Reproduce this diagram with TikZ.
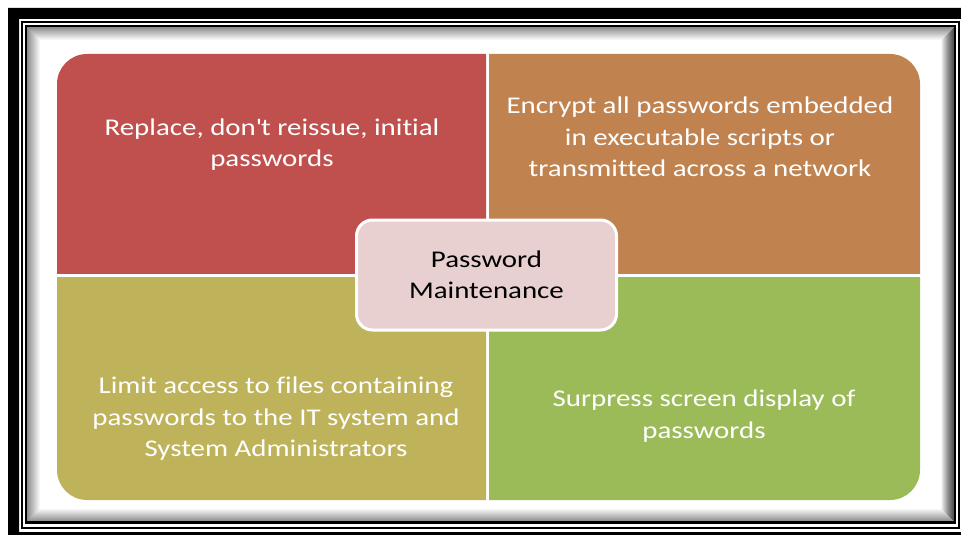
\documentclass[tikz,border=0pt]{standalone}
\usepackage{fontspec}
\setmainfont{Carlito}[FakeStretch=1.205, Ligatures={NoCommon}]
\definecolor{qred}{HTML}{C0504D}
\definecolor{qorange}{HTML}{C0824F}
\definecolor{qolive}{HTML}{BEB35A}
\definecolor{qgreen}{HTML}{9BBB59}
\definecolor{hubfill}{HTML}{E8D0D1}
\begin{document}
\begin{tikzpicture}[x=1pt,y=-1pt,
  quadtext/.style={text=white, align=center, inner sep=0pt,
    font=\fontsize{24}{31.5}\selectfont},
  hubbox/.style={draw=white, line width=3pt, fill=hubfill, rounded corners=16pt,
    minimum width=260pt, minimum height=110pt, align=center, text=black,
    font=\fontsize{24}{31}\selectfont},
  frameline/.style={black, line width=2.2pt}]
\useasboundingbox (0,0) rectangle (961,535);

% picture frame: thick outer band, inner shadow, two thin rules
\fill[black, even odd rule] (8,8) rectangle (990,560) (19,19) rectangle (962,532);
\foreach \i in {0,...,12} {
  \pgfmathsetmacro\op{0.45*(1-\i/13)}
  \draw[black, opacity=\op, line width=1.05pt]
    (27.5+\i,27.5+\i) rectangle (954-\i,521.5-\i);
}
\draw[frameline] (22,22) rectangle (959,528);
\draw[frameline] (26,26) rectangle (955,522.5);

% four quadrants cut from one rounded panel
\begin{scope}
  \clip (0,0) rectangle (486,273);
  \fill[qred, rounded corners=30pt] (57,54) rectangle (920,500);
\end{scope}
\begin{scope}
  \clip (489,0) rectangle (961,273);
  \fill[qorange, rounded corners=30pt] (57,54) rectangle (920,500);
\end{scope}
\begin{scope}
  \clip (0,277) rectangle (486,535);
  \fill[qolive, rounded corners=30pt] (57,54) rectangle (920,500);
\end{scope}
\begin{scope}
  \clip (489,277) rectangle (961,535);
  \fill[qgreen, rounded corners=30pt] (57,54) rectangle (920,500);
\end{scope}

% quadrant texts
\node[quadtext] (tl) at (272,144.5) {Replace, don\textquotesingle t reissue, initial\\passwords};
\node[quadtext] (tr) at (700,137) {Encrypt all passwords embedded\\in executable scripts or\\transmitted across a network};
\node[quadtext] (bl) at (276,419) {Limit access to files containing\\passwords to the IT system and\\System Administrators};
\node[quadtext] (br) at (704,416) {Surpress screen display of\\passwords};

% central topic
\node[hubbox] (hub) at (486.5,275) {Password\\Maintenance};
\end{tikzpicture}
\end{document}
